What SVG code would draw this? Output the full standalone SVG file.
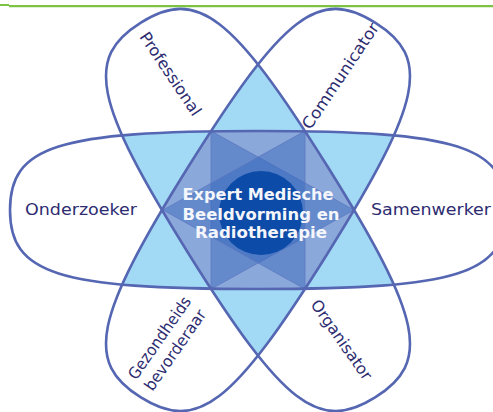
<svg xmlns="http://www.w3.org/2000/svg" xmlns:xlink="http://www.w3.org/1999/xlink" width="493" height="412" viewBox="0 0 493 412">
  <style>
    .outline { fill: none; stroke: #5566b2; stroke-width: 2.6; }
    .pair { fill: #a2daf6; }
    .triple { fill: #8ba8da; }
    .star { fill: #2f62b9; fill-opacity: 0.42; stroke: #5d78c0; stroke-width: 1; stroke-opacity: 0.8; }
    .role { font-family: "DejaVu Sans", Verdana, sans-serif; font-size: 16px; fill: #2d2c70; text-anchor: middle; }
    .core { font-family: "DejaVu Sans", Verdana, sans-serif; font-size: 15px; font-weight: bold; fill: #f4f6fb; text-anchor: middle; }
  </style>
  <defs>
    <!-- rounded, slightly boxy lobes (superellipse-like) -->
    <path id="lobeH" d="M248,0 C248,64 201,79 0,79 C-201,79 -248,64 -248,0 C-248,-64 -201,-79 0,-79 C201,-79 248,-64 248,0 Z"/>
    <path id="lobeT" d="M221,0 C221,66 180,82 0,82 C-180,82 -221,66 -221,0 C-221,-66 -180,-82 0,-82 C180,-82 221,-66 221,0 Z"/>
    <clipPath id="clipH"><use xlink:href="#lobeH" transform="translate(258,210)"/></clipPath>
    <clipPath id="clipA"><use xlink:href="#lobeT" transform="translate(258,210) rotate(58)"/></clipPath>
    <clipPath id="clipB"><use xlink:href="#lobeT" transform="translate(258,210) rotate(-58)"/></clipPath>
  </defs>

  <rect width="493" height="412" fill="#ffffff"/>

  <!-- header rule -->
  <line x1="0" y1="5" x2="9" y2="5" stroke="#7cc243" stroke-width="2"/>
  <line x1="9" y1="6.2" x2="493" y2="6.2" stroke="#7cc243" stroke-width="2.3"/>

  <!-- overlap shading -->
  <g id="overlaps">
    <g clip-path="url(#clipA)"><use xlink:href="#lobeH" transform="translate(258,210)" class="pair"/></g>
    <g clip-path="url(#clipB)"><use xlink:href="#lobeH" transform="translate(258,210)" class="pair"/></g>
    <g clip-path="url(#clipB)"><use xlink:href="#lobeT" transform="translate(258,210) rotate(58)" class="pair"/></g>
    <g clip-path="url(#clipA)"><g clip-path="url(#clipB)"><use xlink:href="#lobeH" transform="translate(258,210)" class="triple"/></g></g>
    <!-- hexagram joining alternate corners of the shared centre -->
    <polygon class="star" points="211,131 354,210 211,289"/>
    <polygon class="star" points="305,131 163,210 305,289"/>
  </g>

  <g id="lobe-horizontal">
    <use xlink:href="#lobeH" transform="translate(258,210)" class="outline"/>
    <text class="role" x="81" y="215" textLength="112" lengthAdjust="spacingAndGlyphs">Onderzoeker</text>
    <text class="role" x="371" y="215" style="text-anchor:start" textLength="120" lengthAdjust="spacingAndGlyphs">Samenwerker</text>
  </g>

  <g id="lobe-professional-organisator">
    <use xlink:href="#lobeT" transform="translate(258,210) rotate(58)" class="outline"/>
    <text class="role" transform="translate(166,77) rotate(56)" textLength="97" lengthAdjust="spacingAndGlyphs">Professional</text>
    <text class="role" transform="translate(337,343) rotate(55)" textLength="94" lengthAdjust="spacingAndGlyphs">Organisator</text>
  </g>

  <g id="lobe-communicator-gezondheid">
    <use xlink:href="#lobeT" transform="translate(258,210) rotate(-58)" class="outline"/>
    <text class="role" transform="translate(345,79) rotate(-56)" textLength="124" lengthAdjust="spacingAndGlyphs">Communicator</text>
    <text class="role" transform="translate(164,341) rotate(-55)" textLength="97" lengthAdjust="spacingAndGlyphs">Gezondheids</text>
    <text class="role" transform="translate(178,352) rotate(-55)" dy="2" textLength="95" lengthAdjust="spacingAndGlyphs">bevorderaar</text>
  </g>

  <g id="core">
    <circle cx="261" cy="213" r="42" fill="#0c4ba7"/>
    <text class="core" x="258" y="200" textLength="151" lengthAdjust="spacingAndGlyphs">Expert Medische</text>
    <text class="core" x="261" y="220" textLength="157" lengthAdjust="spacingAndGlyphs">Beeldvorming en</text>
    <text class="core" x="261" y="238" textLength="132" lengthAdjust="spacingAndGlyphs">Radiotherapie</text>
  </g>
</svg>
